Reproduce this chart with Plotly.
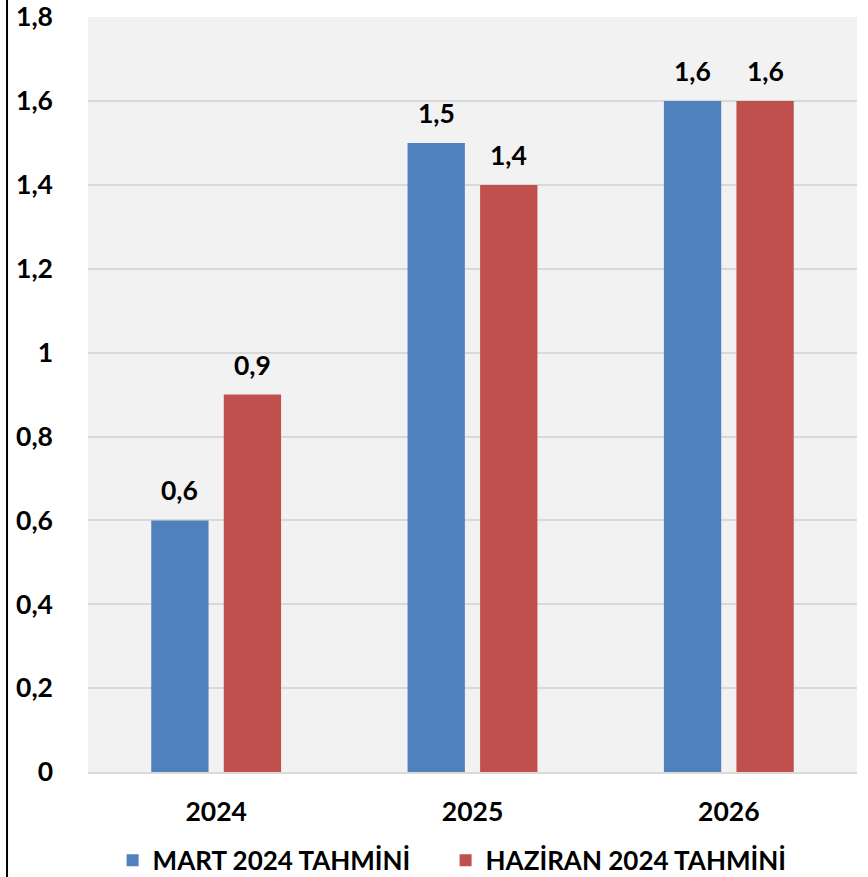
import plotly.graph_objects as go

years = ["2024", "2025", "2026"]
mart = [0.6, 1.5, 1.6]
haziran = [0.9, 1.4, 1.6]
series_names = ["MART 2024 TAHMİNİ", "HAZİRAN 2024 TAHMİNİ"]
colors = ["#4f81bd", "#c0504d"]
yticks = [0, 0.2, 0.4, 0.6, 0.8, 1.0, 1.2, 1.4, 1.6, 1.8]

FONT = "Lato"
FS = 26.5

def fmt(v):
    return ("%g" % v).replace(".", ",")

fig = go.Figure()
for name, vals, col, lg in zip(series_names, [mart, haziran], colors, ["legend", "legend2"]):
    fig.add_trace(go.Bar(x=years, y=vals, name=name, legend=lg,
                         marker=dict(color=col, line=dict(width=0))))

offsets = [-36.25, 36.25]
for vals, off in zip([mart, haziran], offsets):
    for i, v in enumerate(vals):
        fig.add_annotation(x=i, y=v, text=fmt(v), showarrow=False,
                           xshift=off, yshift=12, yanchor="bottom",
                           font=dict(family=FONT, size=FS, color="black", weight="bold"))

fig.add_shape(type="line", xref="paper", yref="paper",
              x0=-0.1053, x1=-0.1053, y0=-0.2, y1=1.1,
              line=dict(color="black", width=2))

legend_font = dict(family=FONT, size=26, color="black", weight="bold")
fig.update_layout(
    width=868, height=877,
    margin=dict(l=88, r=11, t=17, b=105, autoexpand=False),
    paper_bgcolor="white", plot_bgcolor="#f2f2f2",
    barmode="group", bargap=0.434, bargroupgap=0.21,
    separators=",.",
    font=dict(family=FONT, size=FS, color="black"),
    legend=dict(orientation="h", x=0.032, xanchor="left", y=-0.117, yanchor="middle",
                font=legend_font, itemwidth=30),
    legend2=dict(orientation="h", x=0.465, xanchor="left", y=-0.117, yanchor="middle",
                 font=legend_font, itemwidth=30),
    showlegend=True,
)
fig.update_yaxes(range=[0, 1.8005], tickvals=yticks, ticktext=[fmt(t) for t in yticks],
                 showgrid=True, gridcolor="#d9d9d9", gridwidth=1.5, automargin=False,
                 zeroline=False, showline=False, ticks="", ticklabelstandoff=34,
                 ticklabeloverflow="allow",
                 tickfont=dict(family=FONT, size=FS, color="black", weight="bold"))
fig.update_xaxes(type="category", range=[-0.5, 2.5], showline=True, linecolor="#d9d9d9",
                 linewidth=2, ticks="", automargin=False, ticklabelstandoff=15,
                 tickfont=dict(family=FONT, size=FS, color="black", weight="bold"))

# remove the browser's default 8px body margin so the figure fills the window exactly
fig.write_html("out.html", config={"displayModeBar": False},
               post_script="document.body.style.margin='0';document.body.style.overflow='hidden';")
